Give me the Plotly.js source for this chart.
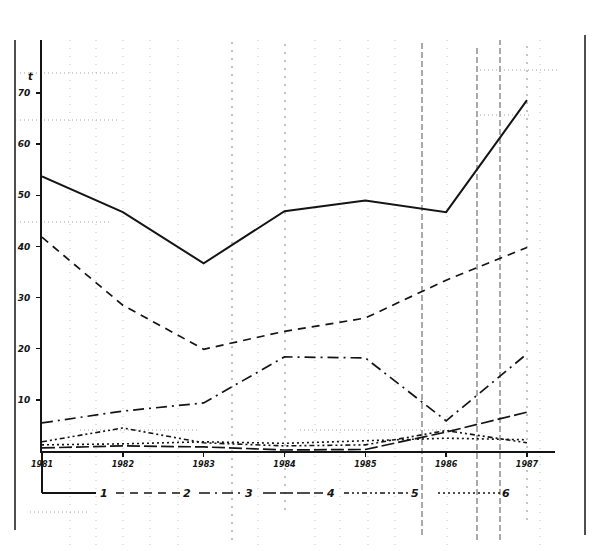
<!DOCTYPE html>
<html>
<head>
<meta charset="utf-8">
<script src="https://cdn.plot.ly/plotly-3.0.1.min.js"></script>
<style>
  html, body { margin: 0; padding: 0; background: #ffffff; }
  #chart { width: 600px; height: 551px; }
</style>
</head>
<body>
<div id="chart"></div>
<script>
// Annual values, 1981–1987, for the six numbered series
const years = [1981, 1982, 1983, 1984, 1985, 1986, 1987];
const yearLabels = ['1981', '1982', '1983', '1984', '1985', '1986', '1987'];
const series1 = [53.7, 46.7, 36.7, 46.9, 49.0, 46.7, 68.6];
const series2 = [41.8, 28.5, 19.9, 23.4, 26.0, 33.4, 39.8];
const series3 = [5.5, 7.8, 9.4, 18.4, 18.2, 5.9, 19.0];
const series4 = [0.6, 1.0, 0.8, 0.2, 0.3, 3.7, 7.6];
const series5 = [1.8, 4.5, 1.6, 1.0, 1.2, 4.0, 1.6];
const series6 = [1.2, 1.4, 1.8, 1.5, 2.0, 2.5, 2.2];
const seriesNames = ['1', '2', '3', '4', '5', '6'];
const yTickVals = [10, 20, 30, 40, 50, 60, 70];
const yTickText = ['10', '20', '30', '40', '50', '60', '70'];

const INK = '#141414';
const dashes = [
  'solid',
  '8px,6px',
  '11px,5px,2px,5px',
  '13px,4px',
  '5px,3px,2px,3px,2px,3px',
  '2px,3px'
];
const widths = [2, 1.7, 1.7, 1.7, 1.6, 1.6];
const allSeries = [series1, series2, series3, series4, series5, series6];

const traces = allSeries.map((vals, i) => ({
  x: years,
  y: vals,
  type: 'scatter',
  mode: 'lines',
  name: seriesNames[i],
  line: { color: INK, width: widths[i], dash: dashes[i] },
  showlegend: false,
  hoverinfo: 'skip'
}));

// plot frame in pixels
const L = 42, R = 555, T = 40, B = 451;
const W = 600, H = 551;
const px = v => (v - L) / (R - L);      // pixel x -> paper
const py = v => (B - v) / (B - T);      // pixel y -> paper

const shapes = [];
const annotations = [];

// graph-paper rulings
const lightV = [70, 96, 123, 150, 178, 258, 315, 340, 368, 395, 447, 540];
lightV.forEach(x => shapes.push({
  type: 'line', xref: 'paper', yref: 'paper',
  x0: px(x), x1: px(x), y0: py(545), y1: py(35),
  line: { color: '#c4c4c4', width: 1, dash: '1px,7px' }, layer: 'below'
}));
const midV = [[232, 40, 540], [285, 40, 510], [527, 40, 520]];
midV.forEach(([x, a, b]) => shapes.push({
  type: 'line', xref: 'paper', yref: 'paper',
  x0: px(x), x1: px(x), y0: py(b), y1: py(a),
  line: { color: '#8a8a8a', width: 1, dash: '2px,6px' }, layer: 'below'
}));
const darkV = [[422, 40, 535], [477, 45, 540], [500, 40, 540]];
darkV.forEach(([x, a, b]) => shapes.push({
  type: 'line', xref: 'paper', yref: 'paper',
  x0: px(x), x1: px(x), y0: py(b), y1: py(a),
  line: { color: '#555555', width: 1, dash: '6px,3px' }, layer: 'below'
}));
const lightH = [[20, 120, 73], [20, 120, 120], [20, 110, 222], [480, 560, 70], [480, 530, 115], [30, 90, 512], [300, 460, 430], [80, 200, 430]];
lightH.forEach(([a, b, y]) => shapes.push({
  type: 'line', xref: 'paper', yref: 'paper',
  x0: px(a), x1: px(b), y0: py(y), y1: py(y),
  line: { color: '#a4a4a4', width: 1, dash: '1px,3px' }, layer: 'below'
}));

// sheet border lines
shapes.push({ type: 'line', xref: 'paper', yref: 'paper',
  x0: px(15), x1: px(15), y0: py(530), y1: py(40), line: { color: INK, width: 1.5 } });
shapes.push({ type: 'line', xref: 'paper', yref: 'paper',
  x0: px(585), x1: px(585), y0: py(535), y1: py(35), line: { color: INK, width: 1.5 } });

// axis extension down into the key
shapes.push({ type: 'line', xref: 'paper', yref: 'paper',
  x0: 0, x1: 0, y0: py(493), y1: 0, line: { color: INK, width: 2 } });

// key: line samples followed by their number
const keyY = 493;
const keyItems = [
  [42, 96, 104],
  [116, 180, 187],
  [199, 243, 249],
  [263, 323, 330],
  [344, 409, 415],
  [438, 500, 506]
];
keyItems.forEach(([a, b, t], i) => {
  shapes.push({ type: 'line', xref: 'paper', yref: 'paper',
    x0: px(a), x1: px(b), y0: py(keyY), y1: py(keyY),
    line: { color: INK, width: widths[i], dash: dashes[i] } });
  annotations.push({ xref: 'paper', yref: 'paper', x: px(t), y: py(keyY),
    text: seriesNames[i], showarrow: false, xanchor: 'center', yanchor: 'middle',
    font: { family: 'DejaVu Sans', size: 11, color: INK, weight: 'bold', style: 'italic' } });
});

// unit marker above the value axis
annotations.push({ xref: 'paper', yref: 'paper', x: px(31), y: py(76),
  text: 't', showarrow: false, xanchor: 'center', yanchor: 'middle',
  font: { family: 'DejaVu Sans', size: 10, color: INK, weight: 'bold', style: 'italic' } });

const layout = {
  width: W, height: H,
  margin: { l: L, r: W - R, t: T, b: H - B },
  paper_bgcolor: '#ffffff',
  plot_bgcolor: 'rgba(0,0,0,0)',
  showlegend: false,
  xaxis: {
    range: [1981, 1981 + (R - L) / 80.83],
    tickvals: years, ticktext: yearLabels,
    ticks: 'outside', ticklen: 4, tickwidth: 1.5, tickcolor: INK,
    showline: true, linecolor: INK, linewidth: 2,
    showgrid: false, zeroline: false,
    tickfont: { family: 'DejaVu Sans', size: 8, color: INK, weight: 'bold', style: 'italic' },
    fixedrange: true
  },
  yaxis: {
    range: [0, (B - T) / 5.114],
    tickvals: yTickVals, ticktext: yTickText,
    ticks: 'outside', ticklen: 4, tickwidth: 1.5, tickcolor: INK,
    showline: true, linecolor: INK, linewidth: 2,
    showgrid: false, zeroline: false,
    ticklabelstandoff: 4,
    tickfont: { family: 'DejaVu Sans', size: 9, color: INK, weight: 'bold', style: 'italic' },
    fixedrange: true
  },
  shapes: shapes,
  annotations: annotations
};

Plotly.newPlot('chart', traces, layout, { staticPlot: true, displayModeBar: false });
</script>
</body>
</html>
